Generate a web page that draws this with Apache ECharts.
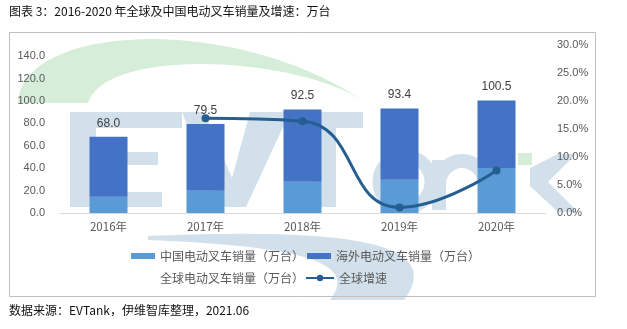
<!DOCTYPE html>
<html>
<head>
<meta charset="utf-8">
<style>
  html, body { margin: 0; padding: 0; background: #ffffff; }
  #chart { width: 627px; height: 329px; }
</style>
<script src="https://cdn.jsdelivr.net/npm/echarts@6/dist/echarts.min.js"></script>
</head>
<body>
<div id="chart"></div>
<script>
// Electric forklift sales, 2016-2020 (unit: 10k units) and global growth rate (%)
const categories = ['2016年', '2017年', '2018年', '2019年', '2020年'];
const chinaSales = [14.6, 19.8, 28.0, 29.6, 40.2];
const overseasSales = [53.4, 59.7, 64.5, 63.8, 60.3];
const globalSales = [68.0, 79.5, 92.5, 93.4, 100.5];
const globalGrowth = [null, 16.9, 16.4, 1.0, 7.6];

const seriesNames = ['中国电动叉车销量（万台）', '海外电动叉车销量（万台）', '全球电动叉车销量（万台）', '全球增速'];
const titleText = '图表 3：2016-2020 年全球及中国电动叉车销量及增速：万台';
const sourceText = '数据来源：EVTank，伊维智库整理，2021.06';

const CJK = '"Noto Sans CJK SC", "Noto Sans", sans-serif';
const LATIN = '"Liberation Sans", Arial, sans-serif';
const TEXT_GRAY = '#595959';
const WM_BLUE = '#d2e0ec';
const WM_GREEN = '#d6eed9';

const chart = echarts.init(document.getElementById('chart'), null, { renderer: 'canvas' });

// sample a cubic Bézier into polygon vertices (used for the logo swooshes)
function cubic(p0, p1, p2, p3, n) {
  const pts = [];
  for (let i = 0; i <= n; i++) {
    const t = i / n, u = 1 - t;
    pts.push([
      u * u * u * p0[0] + 3 * u * u * t * p1[0] + 3 * u * t * t * p2[0] + t * t * t * p3[0],
      u * u * u * p0[1] + 3 * u * u * t * p1[1] + 3 * u * t * t * p2[1] + t * t * t * p3[1],
    ]);
  }
  return pts;
}

const greenCrescent = cubic([18, 103], [20, 25], [230, 12], [362, 100], 40)
  .concat(cubic([362, 100], [290, 55], [105, 48], [88, 103], 40));
const blueSwoosh = cubic([148, 236], [300, 230], [455, 232], [404, 300], 40)
  .concat(cubic([330, 300], [360, 262], [300, 246], [148, 240], 40));

// faint company logo behind the plot
const watermark = [
  { type: 'polygon', shape: { points: greenCrescent }, style: { fill: WM_GREEN } },
  { type: 'polygon', shape: { points: blueSwoosh }, style: { fill: WM_BLUE } },
  // E
  { type: 'rect', shape: { x: 70, y: 112, width: 26, height: 95 }, style: { fill: WM_BLUE } },
  { type: 'rect', shape: { x: 70, y: 112, width: 112, height: 16 }, style: { fill: WM_BLUE } },
  { type: 'rect', shape: { x: 70, y: 152, width: 88, height: 13 }, style: { fill: WM_BLUE } },
  { type: 'rect', shape: { x: 70, y: 192, width: 92, height: 15 }, style: { fill: WM_BLUE } },
  // V
  { type: 'polygon', shape: { points: [[182, 112], [204, 112], [232, 178], [250, 112], [290, 112], [246, 207], [220, 207]] }, style: { fill: WM_BLUE } },
  // T
  { type: 'rect', shape: { x: 286, y: 112, width: 77, height: 16 }, style: { fill: WM_BLUE } },
  { type: 'rect', shape: { x: 312, y: 112, width: 24, height: 95 }, style: { fill: WM_BLUE } },
  // a
  { type: 'arc', shape: { cx: 405, cy: 182, r: 26, startAngle: 0, endAngle: Math.PI * 2 }, style: { stroke: WM_BLUE, lineWidth: 13, fill: null } },
  // n
  { type: 'rect', shape: { x: 432, y: 160, width: 14, height: 50 }, style: { fill: WM_BLUE } },
  { type: 'rect', shape: { x: 478, y: 182, width: 14, height: 28 }, style: { fill: WM_BLUE } },
  { type: 'arc', shape: { cx: 462, cy: 184, r: 23, startAngle: Math.PI, endAngle: Math.PI * 2 }, style: { stroke: WM_BLUE, lineWidth: 14, fill: null } },
  // k
  { type: 'rect', shape: { x: 518, y: 153, width: 14, height: 12 }, style: { fill: WM_GREEN } },
  { type: 'polygon', shape: { points: [[530, 168], [558, 154], [576, 154], [548, 182], [578, 212], [558, 212], [530, 186]] }, style: { fill: WM_BLUE } },
];

const option = {
  animation: false,
  backgroundColor: '#ffffff',
  title: [
    { text: titleText, left: 9, top: 5, padding: 0,
      textStyle: { fontFamily: CJK, fontSize: 12, fontWeight: 'normal', color: '#111111' } },
    { text: sourceText, left: 9, top: 304, padding: 0,
      textStyle: { fontFamily: CJK, fontSize: 12, fontWeight: 'normal', color: '#111111' } },
  ],
  graphic: {
    elements: watermark.map(e => Object.assign({ z: -10, silent: true }, e)).concat([
      { type: 'rect', z: -5, silent: true, shape: { x: 9.5, y: 32.5, width: 586, height: 264 },
        style: { fill: null, stroke: '#bfbfbf', lineWidth: 1 } },
    ]),
  },
  legend: [
    { data: [seriesNames[0]], left: 131, top: 250, padding: 0, itemWidth: 24, itemHeight: 6, icon: 'rect',
      textStyle: { fontFamily: CJK, fontSize: 12, color: TEXT_GRAY } },
    { data: [seriesNames[1]], left: 307, top: 250, padding: 0, itemWidth: 24, itemHeight: 6, icon: 'rect',
      textStyle: { fontFamily: CJK, fontSize: 12, color: TEXT_GRAY } },
    { data: [seriesNames[2]], left: 131, top: 272, padding: 0, itemWidth: 24, itemHeight: 6,
      textStyle: { fontFamily: CJK, fontSize: 12, color: TEXT_GRAY } },
    { data: [seriesNames[3]], left: 305, top: 272, padding: 0, itemWidth: 28, itemHeight: 8,
      textStyle: { fontFamily: CJK, fontSize: 12, color: TEXT_GRAY } },
  ],
  grid: { left: 60, right: 82, top: 45, bottom: 116, containLabel: false },
  xAxis: {
    type: 'category',
    data: categories,
    axisTick: { show: false },
    axisLine: { lineStyle: { color: '#d9d9d9', width: 1 } },
    axisLabel: { color: TEXT_GRAY, fontFamily: CJK, fontSize: 11.5, margin: 8 },
  },
  yAxis: [
    {
      type: 'value', min: 0, max: 150, interval: 20,
      splitLine: { show: false }, axisLine: { show: false }, axisTick: { show: false },
      axisLabel: { color: TEXT_GRAY, fontFamily: LATIN, fontSize: 11, margin: 15, showMaxLabel: false,
        formatter: v => v.toFixed(1) },
    },
    {
      type: 'value', min: 0, max: 30, interval: 5, position: 'right',
      splitLine: { show: false }, axisLine: { show: false }, axisTick: { show: false },
      axisLabel: { color: TEXT_GRAY, fontFamily: LATIN, fontSize: 11, margin: 12,
        formatter: v => v.toFixed(1) + '%' },
    },
  ],
  series: [
    { name: seriesNames[0], type: 'bar', stack: 'sales', data: chinaSales, barWidth: 38,
      itemStyle: { color: '#5b9bd5' } },
    { name: seriesNames[1], type: 'bar', stack: 'sales', data: overseasSales, barWidth: 38,
      itemStyle: { color: '#4472c4' } },
    { name: seriesNames[2], type: 'line', data: globalSales, symbol: 'circle', symbolSize: 1,
      itemStyle: { color: 'rgba(0,0,0,0)' }, lineStyle: { color: 'rgba(0,0,0,0)', width: 0 },
      z: 5,
      label: { show: true, position: 'top', distance: 7, color: '#404040', fontFamily: LATIN, fontSize: 12,
        formatter: p => p.value.toFixed(1) } },
    { name: seriesNames[3], type: 'line', yAxisIndex: 1, data: globalGrowth, smooth: 0.5,
      symbol: 'circle', symbolSize: 8, z: 4,
      itemStyle: { color: '#255e91' }, lineStyle: { color: '#255e91', width: 3 } },
  ],
};

chart.setOption(option);
</script>
</body>
</html>
